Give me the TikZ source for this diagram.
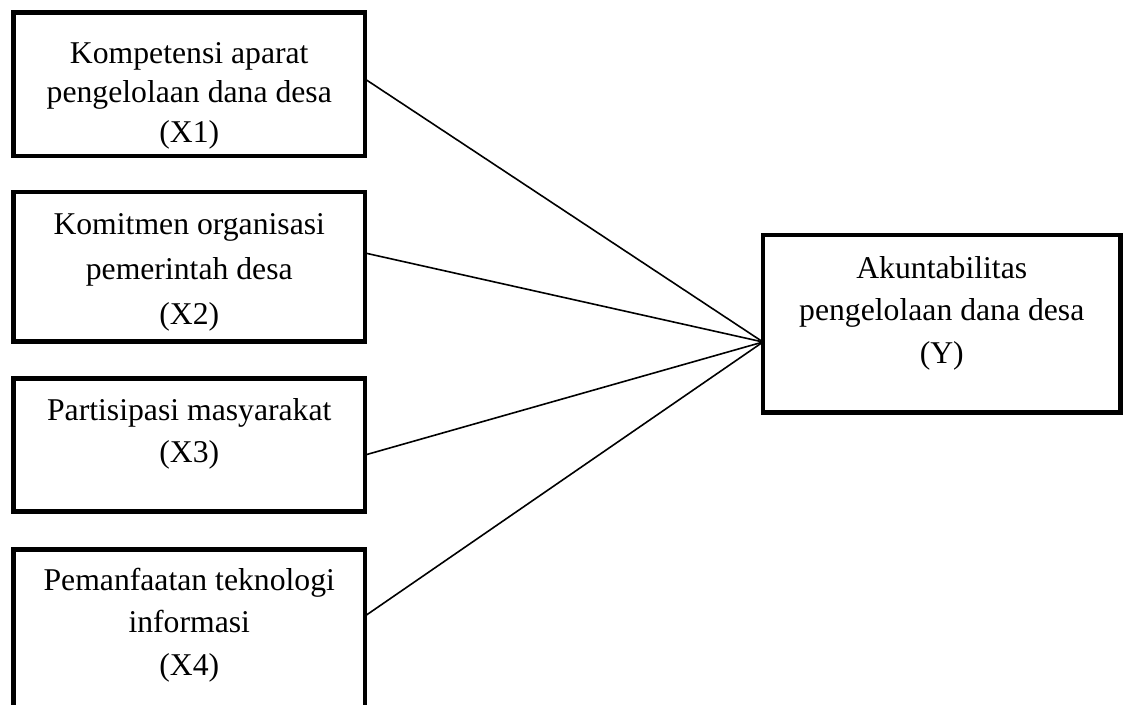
\documentclass[tikz,border=0pt]{standalone}
\usepackage{fontspec}
\setmainfont{Liberation Serif}
\begin{document}
\begin{tikzpicture}[x=1pt,y=-1pt,
  box/.style={draw, line width=4.5pt, line join=miter, rectangle, inner sep=0pt, outer sep=0pt},
  txt/.style={align=center, inner sep=0pt, outer sep=0pt, anchor=north, font=\fontsize{31.7}{#1}\selectfont},
  link/.style={line width=1.6pt}]
\useasboundingbox (0,0) rectangle (1124,704);
\clip (0,0) rectangle (1124,704);
% boxes
\node[box, minimum width=351.5pt, minimum height=143.5pt] (x1) at (189.25,84.25) {};
\node[box, minimum width=351.5pt, minimum height=149.5pt] (x2) at (189.25,266.75) {};
\node[box, minimum width=351.5pt, minimum height=133pt] (x3) at (189.25,445) {};
\node[box, minimum width=351.5pt, minimum height=162.5pt] (x4) at (189.25,630.75) {};
\node[box, minimum width=357.5pt, minimum height=177.5pt] (y) at (941.75,323.75) {};
% texts
\node[txt={39.5}] (t1) at (189.25,38) {\rule{0pt}{25pt}Kompetensi aparat\\pengelolaan dana desa\\(X1)};
\node[txt={45}] (t2) at (189.25,209) {\rule{0pt}{25pt}Komitmen organisasi\\pemerintah desa\\(X2)};
\node[txt={42}] (t3) at (189.25,395) {\rule{0pt}{25pt}Partisipasi masyarakat\\(X3)};
\node[txt={42.5}] (t4) at (189.25,565) {\rule{0pt}{25pt}Pemanfaatan teknologi\\informasi\\(X4)};
\node[txt={42.5}] (ty) at (941.75,253) {\rule{0pt}{25pt}Akuntabilitas\\pengelolaan dana desa\hspace*{17pt}\\(Y)};
% connector end points
\coordinate (s1) at (x1.east |- 0,79);
\coordinate (s2) at (x2.east |- 0,253);
\coordinate (s3) at (x3.east |- 0,455);
\coordinate (s4) at (x4.east |- 0,616);
\coordinate (yin) at (y.west |- 0,342);
% connectors
\draw[link] (s1) -- (yin);
\draw[link] (s2) -- (yin);
\draw[link] (s3) -- (yin);
\draw[link] (s4) -- (yin);
\end{tikzpicture}
\end{document}
